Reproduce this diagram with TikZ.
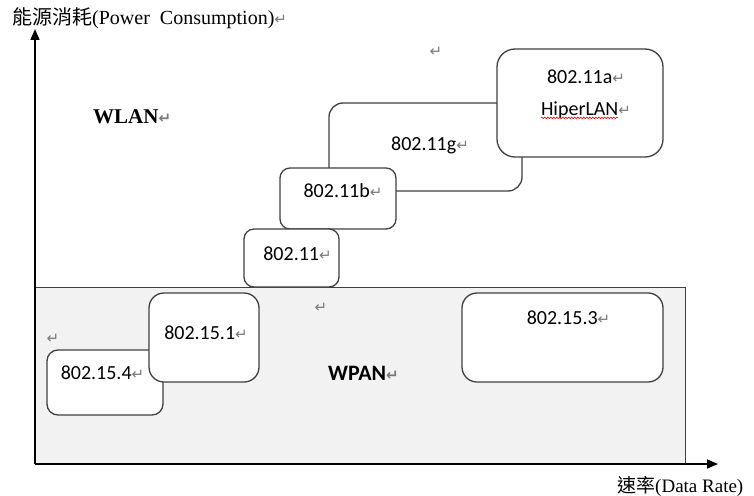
\documentclass[tikz,border=0pt]{standalone}
\usepackage{fontspec}
\setmainfont{Liberation Serif}
\newfontfamily\cjk{Noto Sans CJK TC}
\newfontfamily\calib{Carlito}
\newfontfamily\arrowfont{DejaVu Sans}
\usetikzlibrary{arrows.meta,positioning,decorations.pathmorphing}
\definecolor{edgegray}{HTML}{404040}
\definecolor{areagray}{HTML}{F2F2F2}
\definecolor{markgray}{HTML}{7A7A7A}
\newcommand\parmark{{\arrowfont\fontsize{15}{15}\selectfont\color{markgray}↵}}

\begin{document}
\begin{tikzpicture}[x=1pt,y=-1pt,
  box/.style={draw=edgegray,line width=1.3pt,fill=white,inner sep=0pt},
  lbl/.style={inner sep=0pt,anchor=base,font=\calib\fontsize{20}{24}\selectfont},
  axis/.style={line width=1.6pt,-{Triangle[length=11pt,width=9pt]}},
  spell/.style={red,line width=0.6pt,decorate,decoration={snake,amplitude=0.8pt,segment length=3pt}}]

\useasboundingbox (0,0) rectangle (754,495);

% WPAN area
\node[draw=edgegray,line width=1pt,fill=areagray,inner sep=0pt,minimum width=650pt,minimum height=177pt] (area) at (360,375.5) {};

% boxes, back to front
\foreach \n/\x/\y/\w/\h/\r in {b11g/425.5/147/193/88/14, b11b/338/198.5/116/61/10, b11a/580/103/166/108/18, b11/291.5/258/95/58/10, b154/105/382.5/116/65/11, b151/204/337.5/110/89/15, b153/562.5/337.5/201/89/15}{
\node[box,rounded corners=\r pt,minimum width=\w pt,minimum height=\h pt] (\n) at (\x,\y) {};
}

% axes
\coordinate (o) at (35,464);
\coordinate (ytip) at (35,29);
\coordinate (xtip) at (718,464);
\draw[axis] (o) -- (ytip);
\draw[axis] (o) -- (xtip);

\node[anchor=base west,inner sep=0pt,font=\fontsize{20}{22}\selectfont] (ytitle) at (12,25) {{\cjk 能源消耗}(Power~ Consumption)\parmark};
\node[anchor=base west,inner sep=0pt,font=\fontsize{19}{22}\selectfont] (xtitle) at (617,492) {{\cjk 速率}(Data Rate)};

\node[anchor=base west,inner sep=0pt,font=\bfseries\fontsize{21}{24}\selectfont] (wlan) at (93,123) {WLAN\parmark};
\node[anchor=base west,inner sep=0pt,font=\calib\bfseries\fontsize{22}{24}\selectfont] (wpan) at (328,380) {WPAN\parmark};

% box texts
\foreach \b/\dx/\dy/\t in {b11/6/32/802.11, b11b/5/30/802.11b, b11g/4.5/48/802.11g, b11a/6/35/802.11a, b151/2/47/802.15.1, b154/-2.5/30/802.15.4, b153/6/32/802.15.3}{
\node[lbl] (t\b) at ([xshift=\dx pt,yshift=-\dy pt]\b.north) {\t\parmark};
}
\node[lbl] (thiper) at ([xshift=6pt,yshift=-67pt]b11a.north) {HiperLAN\parmark};
\draw[spell] ([yshift=-2.5pt]thiper.base west) -- ([xshift=-13pt,yshift=-2.5pt]thiper.base east);

% stray paragraph marks
\node[inner sep=0pt] (m1) at (436,52) {\parmark};
\node[inner sep=0pt] (m2) at (321,308) {\parmark};
\node[inner sep=0pt] (m3) at (53,339) {\parmark};

\end{tikzpicture}
\end{document}
